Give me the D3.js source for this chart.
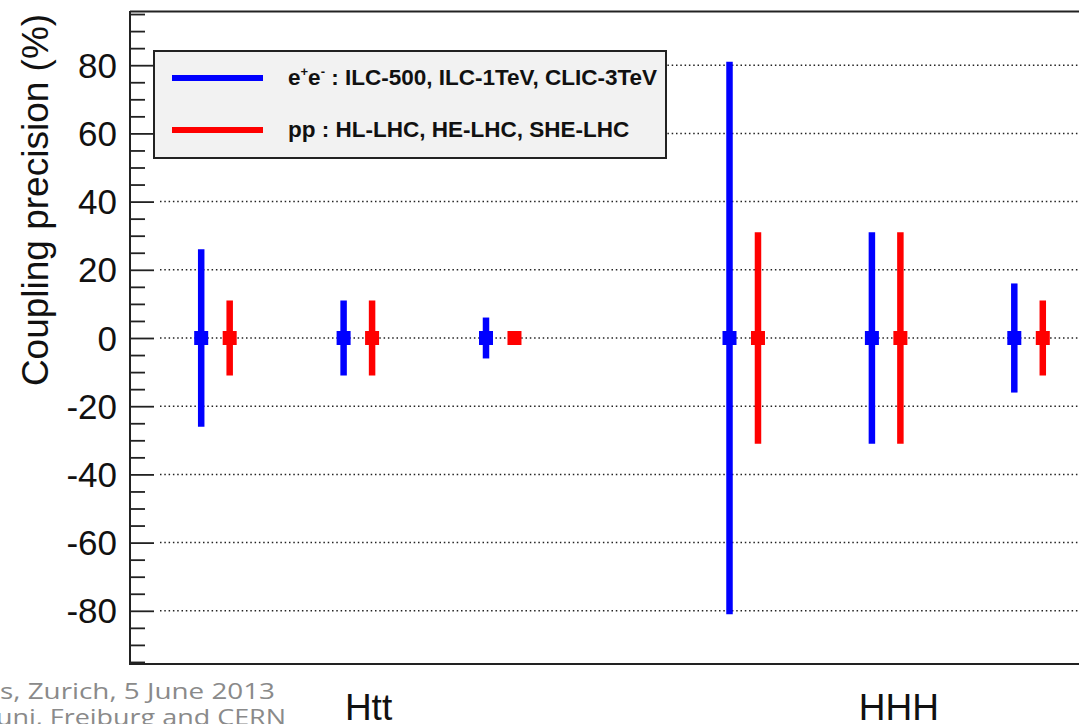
<!DOCTYPE html>
<html>
<head>
<meta charset="utf-8">
<script src="https://cdn.jsdelivr.net/npm/d3@7"></script>
<style>
  html, body { margin: 0; padding: 0; background: #fff; overflow: hidden; }
  svg { display: block; }
</style>
</head>
<body>
<svg id="chart" width="1079" height="724"></svg>
<script>
// ---- data ----
const eeMachines = ["ILC-500", "ILC-1TeV", "CLIC-3TeV"];
const ppMachines = ["HL-LHC", "HE-LHC", "SHE-LHC"];
const groupLabels = ["Htt", "HHH"];
const groupLabelX = [2.175, 5.9];
const pointX = [1, 2, 3, 4.71, 5.71, 6.71];          // x positions of e+e- points
const eeCentral = [0, 0, 0, 0, 0, 0];
const eeError = [26, 11, 6, 81, 31, 16];             // coupling precision (%)
const ppCentral = [0, 0, 0, 0, 0, 0];
const ppError = [11, 11, 0, 31, 31, 11];
const yMajorTicks = [-80, -60, -40, -20, 0, 20, 40, 60, 80];
const legendLabels = ["e+e- : ILC-500, ILC-1TeV, CLIC-3TeV", "pp : HL-LHC, HE-LHC, SHE-LHC"];
const footerLines = ["s, Zurich, 5 June 2013", "uni, Freiburg and CERN"];

// ---- layout ----
const W = 1079, H = 724;
const plotLeft = 130, plotTop = 12, plotBottom = 664;
const svg = d3.select("#chart");
const x = d3.scaleLinear().domain([0.5, 7.4]).range([plotLeft, plotLeft + 6.9 * 142.4]);
const y = d3.scaleLinear().domain([-95.6, 95.6]).range([plotBottom, plotTop]);
const BLUE = "#0000ff", RED = "#ff0000";
const AX = "#222";
const pointOffset = 0.2;

// grid lines (dotted)
svg.append("g").selectAll("line").data(yMajorTicks).join("line")
  .attr("x1", 160).attr("x2", W)
  .attr("y1", d => y(d)).attr("y2", d => y(d))
  .attr("stroke", "#222").attr("stroke-width", 1.5)
  .attr("stroke-dasharray", "1.5,2.8");

// y axis with major and minor ticks
const minorTicks = d3.range(-95, 96, 5).filter(v => v % 20 !== 0);
const axisMajor = d3.axisRight(y).tickValues(yMajorTicks).tickSize(24).tickFormat("");
const axisMinor = d3.axisRight(y).tickValues(minorTicks).tickSize(15).tickFormat("");
const gMaj = svg.append("g").attr("transform", `translate(${plotLeft},0)`).call(axisMajor);
const gMin = svg.append("g").attr("transform", `translate(${plotLeft},0)`).call(axisMinor);
[gMaj, gMin].forEach(g => {
  g.select(".domain").remove();
  g.selectAll(".tick line").attr("stroke", AX).attr("stroke-width", 1.8);
});
// tick labels
svg.append("g").selectAll("text").data(yMajorTicks).join("text")
  .attr("x", 117).attr("y", d => y(d)).attr("dy", "0.36em")
  .attr("text-anchor", "end")
  .attr("font-family", "Liberation Sans, Arial, sans-serif")
  .attr("font-size", 35).attr("fill", "#111")
  .text(d => String(d));

// frame
svg.append("line").attr("x1", plotLeft).attr("x2", plotLeft).attr("y1", plotTop - 1).attr("y2", plotBottom + 1)
  .attr("stroke", AX).attr("stroke-width", 2);
svg.append("line").attr("x1", plotLeft).attr("x2", W).attr("y1", plotTop - 0.5).attr("y2", plotTop - 0.5)
  .attr("stroke", AX).attr("stroke-width", 2);
svg.append("line").attr("x1", plotLeft).attr("x2", W).attr("y1", plotBottom).attr("y2", plotBottom)
  .attr("stroke", AX).attr("stroke-width", 2);

// y-axis title
svg.append("text")
  .attr("transform", `translate(48,${(13 + 387) / 2}) rotate(-90)`)
  .attr("text-anchor", "middle")
  .attr("font-family", "Liberation Sans, Arial, sans-serif")
  .attr("font-size", 37).attr("fill", "#111")
  .text("Coupling precision (%)");

// data points
function drawSeries(xs, central, errs, color, dx) {
  const g = svg.append("g");
  const data = xs.map((v, i) => ({ x: v + dx, c: central[i], e: errs[i] }));
  g.selectAll("line").data(data.filter(d => d.e > 0)).join("line")
    .attr("x1", d => x(d.x)).attr("x2", d => x(d.x))
    .attr("y1", d => y(d.c - d.e)).attr("y2", d => y(d.c + d.e))
    .attr("stroke", color).attr("stroke-width", 6.5);
  g.selectAll("rect").data(data).join("rect")
    .attr("x", d => x(d.x) - 7).attr("y", d => y(d.c) - 7)
    .attr("width", 14).attr("height", 14).attr("fill", color);
}
drawSeries(pointX, eeCentral, eeError, BLUE, 0);
drawSeries(pointX, ppCentral, ppError, RED, pointOffset);

// group labels
svg.append("g").selectAll("text").data(groupLabels).join("text")
  .attr("x", (d, i) => x(groupLabelX[i])).attr("y", 720)
  .attr("text-anchor", "middle")
  .attr("font-family", "Liberation Sans, Arial, sans-serif")
  .attr("font-size", 37).attr("fill", "#111")
  .text(d => d);

// legend
const lg = svg.append("g");
lg.append("rect").attr("x", 154).attr("y", 51).attr("width", 512).attr("height", 107)
  .attr("fill", "#f2f2f2").attr("stroke", AX).attr("stroke-width", 2);
const legendRows = [{ c: BLUE, yy: 78 }, { c: RED, yy: 130 }];
legendRows.forEach((r, i) => {
  lg.append("line").attr("x1", 172).attr("x2", 263).attr("y1", r.yy).attr("y2", r.yy)
    .attr("stroke", r.c).attr("stroke-width", 6);
  const t = lg.append("text").attr("x", 288).attr("y", r.yy + 7)
    .attr("font-family", "Liberation Sans, Arial, sans-serif")
    .attr("font-weight", "bold").attr("font-size", 22.5).attr("fill", "#111");
  if (i === 0) {
    t.append("tspan").text("e");
    t.append("tspan").attr("font-size", 13).attr("dy", -9).text("+");
    t.append("tspan").attr("dy", 9).text("e");
    t.append("tspan").attr("font-size", 13).attr("dy", -9).text("-");
    t.append("tspan").attr("dy", 9).text(legendLabels[0].slice(4));
  } else {
    t.text(legendLabels[1]);
  }
});

// slide footer text (partially visible)
svg.append("g").selectAll("text").data(footerLines).join("text")
  .attr("x", (d, i) => i === 0 ? 0 : -4).attr("y", (d, i) => i === 0 ? 699 : 725)
  .attr("textLength", (d, i) => i === 0 ? 275 : 290)
  .attr("lengthAdjust", "spacingAndGlyphs")
  .attr("font-family", "Open Sans, Lato, sans-serif")
  .attr("font-size", 22).attr("fill", "#8a8a8a")
  .text(d => d);
</script>
</body>
</html>
